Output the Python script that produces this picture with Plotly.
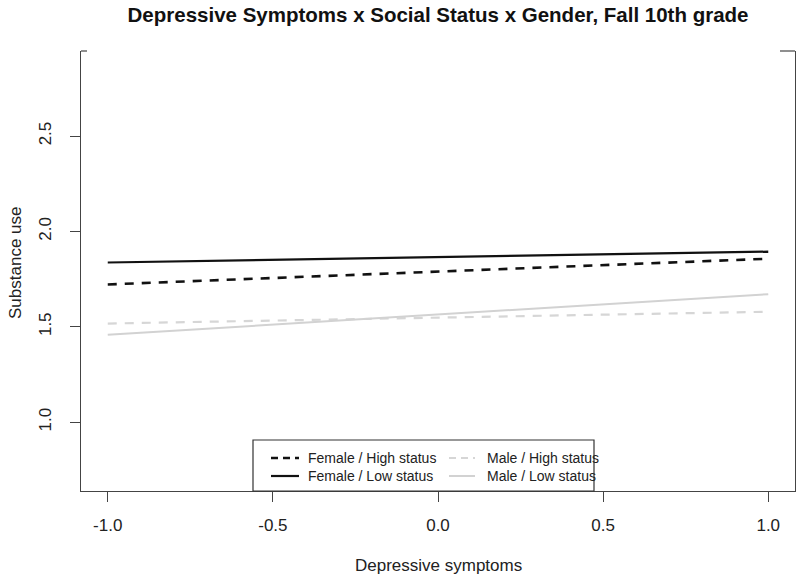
import plotly.graph_objects as go

# Data
x_vals = [-1.0, 1.0]
female_high = [1.722, 1.857]
female_low = [1.837, 1.894]
male_high = [1.517, 1.579]
male_low = [1.458, 1.671]

series_names = ["Female / High status", "Female / Low status", "Male / High status", "Male / Low status"]

x_ticks = [-1.0, -0.5, 0.0, 0.5, 1.0]
x_ticktext = ["-1.0", "-0.5", "0.0", "0.5", "1.0"]
y_ticks = [1.0, 1.5, 2.0, 2.5]
y_ticktext = ["1.0", "1.5", "2.0", "2.5"]

FONT = "Arial, 'Liberation Sans', sans-serif"
BLACK = "#111111"
GRAY_D = "#d6d6d6"
GRAY_S = "#d2d2d2"
DASH = "9px,8px"

styles = {
    "Female / High status": dict(color=BLACK, width=2.6, dash=DASH),
    "Female / Low status": dict(color=BLACK, width=2.2, dash="solid"),
    "Male / High status": dict(color=GRAY_D, width=2.2, dash=DASH),
    "Male / Low status": dict(color=GRAY_S, width=2.0, dash="solid"),
}
values = {
    "Female / High status": female_high,
    "Female / Low status": female_low,
    "Male / High status": male_high,
    "Male / Low status": male_low,
}

fig = go.Figure()
for nm in series_names:
    fig.add_trace(go.Scatter(x=x_vals, y=values[nm], mode="lines", name=nm,
                             line=styles[nm], showlegend=False))

W, H = 797, 578
L, R, T, B = 81, 2, 51, 87
pw, ph = W - L - R, H - T - B


def px(xp):
    return (xp - L) / pw


def py(yp):
    return (H - B - yp) / ph


shapes = [
    dict(type="line", xref="paper", yref="paper", x0=0, x1=6 / pw, y0=1, y1=1,
         line=dict(color="#444444", width=1.2)),
    dict(type="line", xref="paper", yref="paper", x0=1 - 15 / pw, x1=1, y0=1, y1=1,
         line=dict(color="#444444", width=1.2)),
    # legend box
    dict(type="rect", xref="paper", yref="paper", x0=px(253), x1=px(594), y0=py(491), y1=py(440),
         line=dict(color="#333333", width=1.2), fillcolor="white", layer="above"),
]
annotations = [
    dict(text="Depressive symptoms", x=0.5, y=py(565), xref="paper", yref="paper",
         showarrow=False, xanchor="center", yanchor="middle",
         font=dict(size=17, color="#222222", family=FONT)),
    dict(text="Substance use", x=px(15), y=py(263), xref="paper", yref="paper",
         showarrow=False, xanchor="center", yanchor="middle", textangle=-90,
         font=dict(size=17, color="#222222", family=FONT)),
]

# manual legend entries (2 columns x 2 rows)
leg_layout = [
    ("Female / High status", 271, 299, 306, 458),
    ("Female / Low status", 271, 299, 306, 476),
    ("Male / High status", 449, 475, 485, 458),
    ("Male / Low status", 449, 475, 485, 476),
]
for nm, sx0, sx1, tx, ty in leg_layout:
    st = styles[nm]
    dash = "solid" if st["dash"] == "solid" else "7px,5px"
    shapes.append(dict(type="line", xref="paper", yref="paper", x0=px(sx0), x1=px(sx1),
                       y0=py(ty), y1=py(ty), layer="above",
                       line=dict(color=st["color"], width=st["width"], dash=dash)))
    annotations.append(dict(text=nm, x=px(tx), y=py(ty), xref="paper", yref="paper",
                            showarrow=False, xanchor="left", yanchor="middle",
                            font=dict(size=14, color="#222222", family=FONT)))

fig.update_layout(
    width=W, height=H,
    margin=dict(l=L, r=R, t=T, b=B, pad=0),
    paper_bgcolor="white", plot_bgcolor="white",
    font=dict(family=FONT, size=17, color="#222222"),
    title=dict(text="<b>Depressive Symptoms x Social Status x Gender, Fall 10th grade</b>",
               x=0.5, xref="paper", xanchor="center",
               y=1 - 15 / H, yref="container", yanchor="middle",
               font=dict(size=20.5, color="#111111", family=FONT)),
    xaxis=dict(range=[-1.081, 1.081], tickvals=x_ticks, ticktext=x_ticktext,
               showgrid=False, zeroline=False, showline=True, linecolor="#444444", linewidth=1.2,
               ticks="outside", ticklen=10, tickwidth=1.2, tickcolor="#444444",
               ticklabelstandoff=8, tickfont=dict(size=17, color="#222222"), automargin=False),
    yaxis=dict(range=[0.639, 2.946], tickvals=y_ticks, ticktext=y_ticktext,
               showgrid=False, zeroline=False, showline=True, mirror=True,
               linecolor="#444444", linewidth=1.2,
               ticks="outside", ticklen=10, tickwidth=1.2, tickcolor="#444444",
               tickangle=-90, ticklabelstandoff=12, tickfont=dict(size=17, color="#222222"),
               automargin=False),
    showlegend=False,
    shapes=shapes,
    annotations=annotations,
)

fig.write_html("out.html", config={"displayModeBar": False},
               post_script="document.body.style.margin='0';")
